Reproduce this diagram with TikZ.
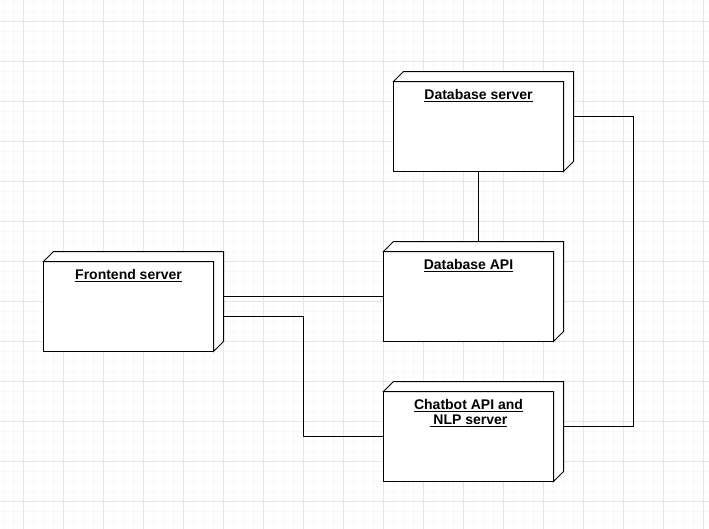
\documentclass[tikz,border=0pt]{standalone}
\usepackage{fontspec}
\setmainfont{Liberation Sans}
\usepackage{tikz}

\newcommand{\ulin}[1]{\setbox0\hbox{#1}\leavevmode\rlap{\rule[-2.6pt]{\wd0}{1.2pt}}\box0}

\begin{document}
\begin{tikzpicture}[x=1pt, y=-1pt, line width=1pt,
	every node/.style={font=\fontsize{14}{15.5}\selectfont\bfseries},
	box/.style={draw, fill=white, minimum width=170pt, minimum height=90pt, inner sep=0pt, outer sep=0pt},
	lbl/.style={anchor=north, yshift=-7pt, inner sep=0pt, align=center},
	minor/.style={draw=gray!6, line width=1pt},
	major/.style={draw=gray!20, line width=1pt}]
	\fill[white] (0,0) rectangle (709,528);
	\useasboundingbox (0,0) rectangle (709,528);
	\begin{scope}[shift={(0.5,0.5)}]
	% grid
	\foreach \x in {3,13,...,703} \draw[minor] (\x,-1) -- (\x,528);
	\foreach \y in {1,11,...,521} \draw[minor] (-1,\y) -- (709,\y);
	\foreach \x in {23,63,...,703} \draw[major] (\x,-1) -- (\x,528);
	\foreach \y in {21,61,...,501} \draw[major] (-1,\y) -- (709,\y);
	% nodes
	\node[box, label={[lbl]north:\ulin{Database server}}] (dbserver) at (478,126) {};
	\node[box, label={[lbl]north:\ulin{Database API}}] (dbapi) at (468,296) {};
	\node[box, label={[lbl]north:\ulin{Frontend server}}] (frontend) at (128,306) {};
	\node[box, label={[lbl]north:{\ulin{Chatbot API and}\\\ulin{\ NLP server}}}] (chatbot) at (468,436) {};
	\foreach \n in {dbserver,dbapi,frontend,chatbot}
		\draw[fill=white, line join=miter] (\n.north west) -- ++(10,-10) -- ([shift={(10,-10)}]\n.north east) -- ([shift={(10,-10)}]\n.south east) -- (\n.south east) -- (\n.north east) -- cycle;
	% connectors
	\draw (dbserver.south) -- ([shift={(10,-10)}]dbapi.north);
	\draw ([shift={(10,-10)}]dbserver.east) -- ++(60,0) |- ([shift={(10,-10)}]chatbot.east);
	\draw ([shift={(10,-10)}]frontend.east) -- (dbapi.west);
	\draw ([shift={(10,10)}]frontend.east) -- ++(80,0) |- (chatbot.west);
	\end{scope}
\end{tikzpicture}
\end{document}
